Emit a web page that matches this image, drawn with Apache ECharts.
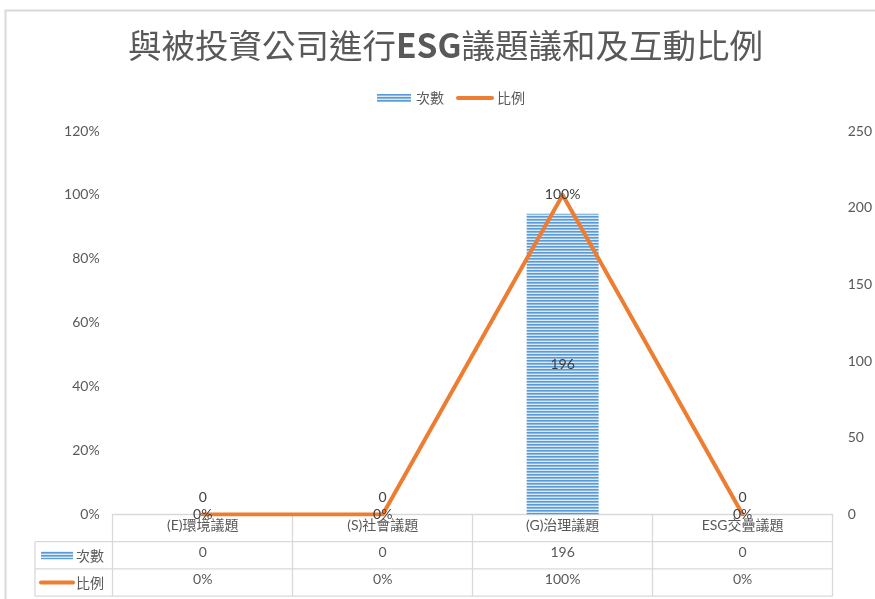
<!DOCTYPE html>
<html><head><meta charset="utf-8">
<script src="https://cdn.jsdelivr.net/npm/echarts@6/dist/echarts.min.js"></script>
<style>html,body{margin:0;padding:0;background:#fff}#c{width:875px;height:599px}</style>
</head><body><div id="c"></div>
<script>
const categories = ['(E)環境議題', '(S)社會議題', '(G)治理議題', 'ESG交疊議題'];
const countValues = [0, 0, 196, 0];
const ratioValues = [0, 0, 1, 0];
const leftTicks = {min: 0, max: 1.2, interval: 0.2};
const rightTicks = {min: 0, max: 250, interval: 50};
const seriesNames = ['次數', '比例'];
const titleText = '與被投資公司進行ESG議題議和及互動比例';

const FONT = "Lato, 'Noto Sans CJK TC', sans-serif";
const TXT = '#595959';
const pct = v => Math.round(v * 100) + '%';

// striped pattern for bars
const pc = document.createElement('canvas');
pc.width = 4; pc.height = 3;
const g = pc.getContext('2d');
['#5b9bd5', '#8cb9e4', '#dbe8f6'].forEach((c, i) => { g.fillStyle = c; g.fillRect(0, i, 4, 1); });
const barFill = {image: pc, repeat: 'repeat'};
const ORANGE = '#ed7d31';

const chart = echarts.init(document.getElementById('c'), null, {renderer: 'canvas'});

const gridL = 112.7, gridR = 42.3, gridT = 131, gridB = 84.5;
const tableLeft = 35, rowH = 27.2;
const axisY = 599 - gridB;

const titleRich = titleText.replace('ESG', '{b|ESG}');

chart.setOption({
  backgroundColor: '#fff',
  textStyle: {fontFamily: FONT},
  title: {
    text: titleRich,
    left: 123, top: 24,
    textStyle: {
      fontFamily: "'Noto Sans CJK TC', sans-serif", fontSize: 33.5, fontWeight: 'normal', color: TXT,
      rich: {b: {fontFamily: "'Noto Sans CJK TC', sans-serif", fontSize: 33.5, fontWeight: 'bold', color: TXT}}
    }
  },
  legend: {
    top: 86, left: 372, itemGap: 12, itemWidth: 34, itemHeight: 8,
    textStyle: {color: TXT, fontSize: 14, fontFamily: "'Noto Sans CJK TC', sans-serif"},
    lineStyle: {width: 4, cap: 'round'},
    data: [{name: seriesNames[0], icon: 'rect'}, {name: seriesNames[1], itemStyle: {opacity: 0}}]
  },
  grid: {left: gridL, right: gridR, top: gridT, bottom: gridB, containLabel: false},
  xAxis: [
    {
      type: 'category', data: categories, position: 'bottom',
      axisLine: {show: true, lineStyle: {color: '#d9d9d9', width: 1.3}},
      axisTick: {show: true, length: 81.5, lineStyle: {color: '#d9d9d9', width: 1.3}},
      axisLabel: {color: TXT, fontSize: 14, margin: 4, fontFamily: FONT},
      splitLine: {show: false}
    },
    {
      type: 'category', data: countValues.map(String), position: 'bottom', offset: rowH,
      axisLine: {show: false}, axisTick: {show: false},
      axisLabel: {color: TXT, fontSize: 14, margin: 4, fontFamily: FONT}
    },
    {
      type: 'category', data: ratioValues.map(pct), position: 'bottom', offset: rowH * 2,
      axisLine: {show: false}, axisTick: {show: false},
      axisLabel: {color: TXT, fontSize: 14, margin: 4, fontFamily: FONT}
    }
  ],
  yAxis: [
    {
      type: 'value', min: leftTicks.min, max: leftTicks.max, interval: leftTicks.interval,
      axisLine: {show: false}, axisTick: {show: false}, splitLine: {show: false},
      axisLabel: {color: TXT, fontSize: 14, margin: 13, formatter: pct, fontFamily: FONT}
    },
    {
      type: 'value', min: rightTicks.min, max: rightTicks.max, interval: rightTicks.interval,
      position: 'right',
      axisLine: {show: false}, axisTick: {show: false}, splitLine: {show: false},
      axisLabel: {color: TXT, fontSize: 14, margin: 15, fontFamily: FONT}
    }
  ],
  series: [
    {
      name: seriesNames[0], type: 'bar', xAxisIndex: 0, yAxisIndex: 1,
      barWidth: '40%',
      itemStyle: {color: barFill},
      data: countValues.map(v => ({
        value: v,
        label: {show: true, position: v > 0 ? 'inside' : 'top', distance: 10, color: '#404040', fontSize: 14, fontFamily: FONT}
      })),
      z: 2
    },
    {
      name: seriesNames[1], type: 'line', xAxisIndex: 0, yAxisIndex: 0,
      symbol: 'circle', symbolSize: 0.1,
      lineStyle: {color: ORANGE, width: 4, cap: 'round', join: 'round'},
      itemStyle: {color: ORANGE},
      label: {show: true, position: 'inside', color: '#404040', fontSize: 14, formatter: p => pct(p.value), fontFamily: FONT},
      data: ratioValues,
      z: 3
    }
  ],
  graphic: [
    {type: 'polyline', shape: {points: [[5.5, 600], [5.5, 10.5], [876, 10.5]]}, style: {stroke: '#d9d9d9', lineWidth: 2, fill: null}, silent: true},
    {type: 'line', shape: {x1: tableLeft, y1: axisY + rowH, x2: 875 - gridR, y2: axisY + rowH}, style: {stroke: '#d9d9d9', lineWidth: 1.3}},
    {type: 'line', shape: {x1: tableLeft, y1: axisY + rowH * 2, x2: 875 - gridR, y2: axisY + rowH * 2}, style: {stroke: '#d9d9d9', lineWidth: 1.3}},
    {type: 'line', shape: {x1: tableLeft, y1: axisY + rowH * 3, x2: 875 - gridR, y2: axisY + rowH * 3}, style: {stroke: '#d9d9d9', lineWidth: 1.3}},
    {type: 'line', shape: {x1: tableLeft, y1: axisY + rowH, x2: tableLeft, y2: axisY + rowH * 3}, style: {stroke: '#d9d9d9', lineWidth: 1.3}},
    {type: 'rect', shape: {x: 41, y: axisY + rowH * 1.5 - 4, width: 32, height: 8}, style: {fill: barFill}},
    {type: 'text', x: 76, y: axisY + rowH * 1.5, style: {text: seriesNames[0], fill: TXT, font: "14px 'Noto Sans CJK TC'", textVerticalAlign: 'middle', verticalAlign: 'middle'}},
    {type: 'line', shape: {x1: 41, y1: axisY + rowH * 2.5, x2: 73, y2: axisY + rowH * 2.5}, style: {stroke: ORANGE, lineWidth: 4, lineCap: 'round'}},
    {type: 'text', x: 76, y: axisY + rowH * 2.5, style: {text: seriesNames[1], fill: TXT, font: "14px 'Noto Sans CJK TC'", textVerticalAlign: 'middle', verticalAlign: 'middle'}}
  ]
});
</script>
</body></html>
